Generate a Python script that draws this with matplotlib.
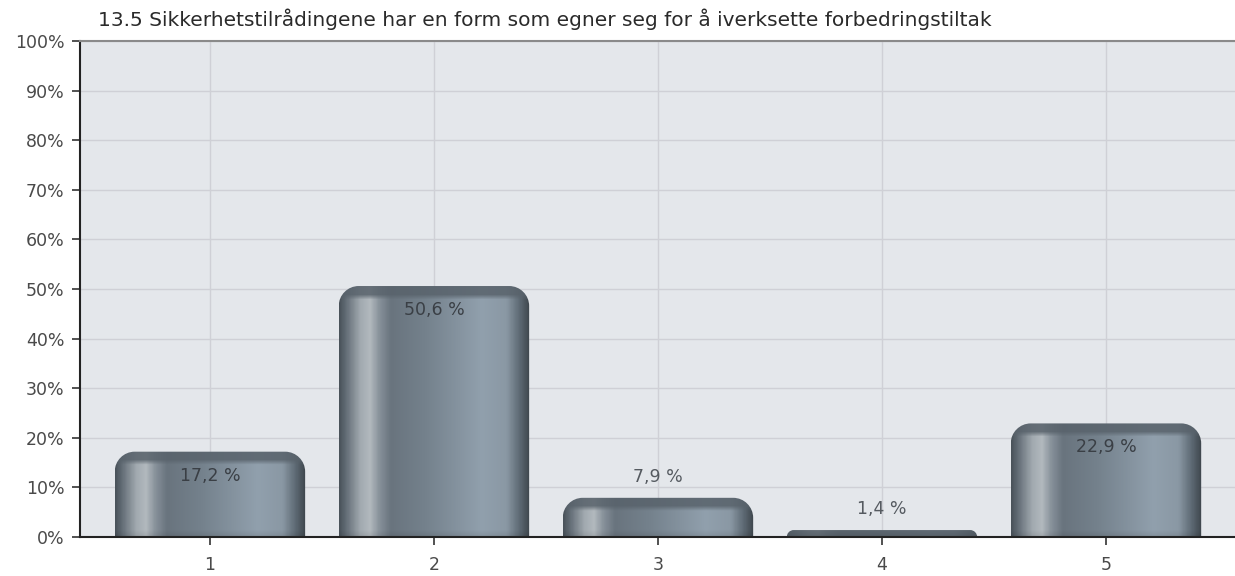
import numpy as np
import matplotlib
matplotlib.use("Agg")
import matplotlib.pyplot as plt
from matplotlib.path import Path
from matplotlib.patches import PathPatch
from matplotlib.colors import LinearSegmentedColormap, to_rgb

categories = ["1", "2", "3", "4", "5"]
values = [17.2, 50.6, 7.9, 1.4, 22.9]
value_labels = ["17,2 %", "50,6 %", "7,9 %", "1,4 %", "22,9 %"]
yticks = [0, 10, 20, 30, 40, 50, 60, 70, 80, 90, 100]
ytick_labels = [f"{t}%" for t in yticks]
title = "13.5 Sikkerhetstilrådingene har en form som egner seg for å iverksette forbedringstiltak"

plt.rcParams["font.family"] = ["DejaVu Sans"]

W, H = 1235, 576
fig = plt.figure(figsize=(W / 100, H / 100), dpi=100)
ax = fig.add_axes([80 / W, 1 - 537 / H, 1 - 80 / W, (537 - 41) / H])
ax.set_facecolor("#e4e7eb")

x = np.arange(1, len(categories) + 1)
ax.set_xlim(0.42, 5.576)
ax.set_ylim(0, 100)
ax.set_xticks(x)
ax.set_xticklabels(categories)
ax.set_yticks(yticks)
ax.set_yticklabels(ytick_labels)
ax.tick_params(axis="both", labelsize=12.5, colors="#333333", length=6, width=1.2, direction="out")
ax.tick_params(axis="y", pad=5, labelcolor="#4a4a4a")
ax.tick_params(axis="x", pad=8, labelcolor="#4a4a4a")
ax.grid(True, color="#cfd0d6", linewidth=1.0)
ax.set_axisbelow(True)
ax.spines["right"].set_visible(False)
ax.spines["top"].set_color("#8a8a8a")
ax.spines["top"].set_linewidth(1.5)
ax.spines["left"].set_color("#222222")
ax.spines["left"].set_linewidth(1.5)
ax.spines["bottom"].set_color("#222222")
ax.spines["bottom"].set_linewidth(1.5)

fig.text(98 / W, 1 - 19 / H, title, fontsize=14.5, color="#2a2a2a", va="center", ha="left")

# bar gradient
stops = [
    (0.00, "#4a535b"), (0.04, "#68727b"), (0.11, "#a2aab0"), (0.16, "#b2b9be"),
    (0.21, "#87919a"), (0.27, "#69747e"), (0.45, "#74818c"), (0.75, "#91a0ad"),
    (0.88, "#8a98a4"), (0.95, "#5d6973"), (1.00, "#3f474e"),
]
cmap = LinearSegmentedColormap.from_list("bar", stops)

bar_w = 0.85
fig.canvas.draw()
p0 = ax.transData.transform((0, 0))
p1 = ax.transData.transform((1, 1))
px_per_x = p1[0] - p0[0]
px_per_y = p1[1] - p0[1]
k = 0.5523

for xi, v, lab in zip(x, values, value_labels):
    x0, x1 = xi - bar_w / 2, xi + bar_w / 2
    h_px = v * px_per_y
    r_px = min(20.0, h_px)
    rx = r_px / px_per_x
    ry = r_px / px_per_y
    verts = [
        (x0, 0), (x0, v - ry),
        (x0, v - ry + k * ry), (x0 + rx - k * rx, v), (x0 + rx, v),
        (x1 - rx, v),
        (x1 - rx + k * rx, v), (x1, v - ry + k * ry), (x1, v - ry),
        (x1, 0), (x0, 0),
    ]
    codes = [Path.MOVETO, Path.LINETO,
             Path.CURVE4, Path.CURVE4, Path.CURVE4,
             Path.LINETO,
             Path.CURVE4, Path.CURVE4, Path.CURVE4,
             Path.LINETO, Path.CLOSEPOLY]
    patch = PathPatch(Path(verts, codes), facecolor="none", edgecolor="none")
    ax.add_patch(patch)
    ncols = 300
    nrows = max(int(round(h_px)), 2)
    cols = cmap(np.linspace(0, 1, ncols))[:, :3]
    img = np.tile(cols[None, :, :], (nrows, 1, 1))
    rows = np.arange(nrows)
    cap = np.clip(1 - (rows - 8) / 5.0, 0, 1)
    capc = np.array(to_rgb("#58626b"))
    blend = (cap * 0.85)[:, None, None]
    img = img * (1 - blend) + capc[None, None, :] * blend
    bot = np.clip((rows - (nrows - 8)) / 8.0, 0, 1) * 0.10
    img = img * (1 - bot[:, None, None])
    im = ax.imshow(img, extent=(x0, x1, 0, v), aspect="auto", origin="upper",
                   interpolation="bilinear", zorder=2)
    im.set_clip_path(patch)
    if v > 12:
        ax.annotate(lab, (xi, v), xytext=(0, -24), textcoords="offset pixels",
                    ha="center", va="center", fontsize=12.5, color="#3a3f45", zorder=3)
    else:
        ax.annotate(lab, (xi, v), xytext=(0, 21), textcoords="offset pixels",
                    ha="center", va="center", fontsize=12.5, color="#555a60", zorder=3)

fig.savefig("out.png", dpi=100)
